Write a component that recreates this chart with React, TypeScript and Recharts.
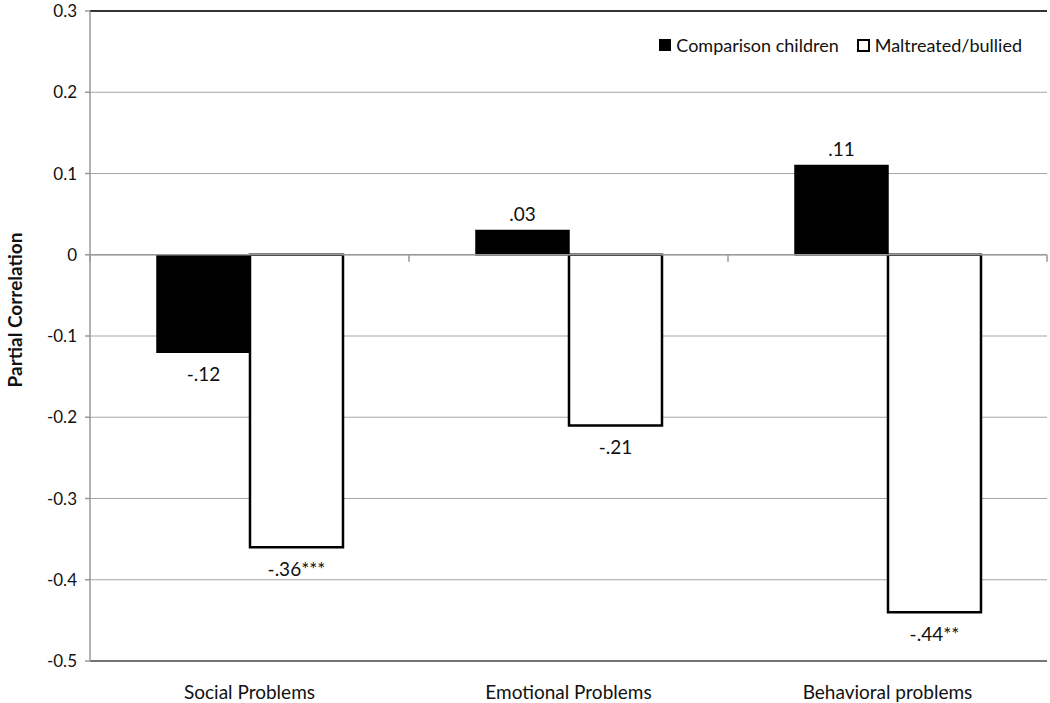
import { BarChart, Bar, XAxis, YAxis, CartesianGrid, Legend, LabelList, ReferenceLine } from "recharts";

const categories = ["Social Problems", "Emotional Problems", "Behavioral problems"];
const comparison = [-0.12, 0.03, 0.11];
const maltreated = [-0.36, -0.21, -0.44];
const comparisonLabels = ["-.12", ".03", ".11"];
const maltreatedLabels = ["-.36***", "-.21", "-.44**"];
const yTicks = [-0.5, -0.4, -0.3, -0.2, -0.1, 0, 0.1, 0.2, 0.3];

const data = categories.map((name, i) => ({
  name,
  comparison: comparison[i],
  maltreated: maltreated[i],
  cLabel: comparisonLabels[i],
  mLabel: maltreatedLabels[i],
}));

const FONT = "Lato, 'Open Sans', sans-serif";

// value labels sit above positive bars and below negative ones
const valueLabel = (values: number[]) => (props: any) => {
  const box = props.viewBox ?? props;
  const { x, y, width, height } = box;
  const v = values[props.index];
  const top = Math.min(y, y + height);
  const bottom = Math.max(y, y + height);
  const ty = v >= 0 ? top - 17 : bottom + 21;
  return (
    <text x={x + width / 2} y={ty} textAnchor="middle" dominantBaseline="central" fontSize={19} fontFamily={FONT} fill="#111">
      {props.value}
    </text>
  );
};

// zero line with little ticks at the category boundaries
const ZeroLine = (props: any) => {
  const { x1, y1, x2 } = props;
  const step = (x2 - x1) / categories.length;
  const ticks = [];
  for (let i = 0; i <= categories.length; i++) {
    const tx = x1 + step * i;
    ticks.push(<line key={i} x1={tx} x2={tx} y1={y1} y2={y1 + 7} stroke="#999" strokeWidth={1.5} />);
  }
  return (
    <g>
      <line x1={x1} x2={x2} y1={y1} y2={y1} stroke="#999" strokeWidth={1.5} />
      {ticks}
    </g>
  );
};

const LegendBox = () => (
  <div style={{ display: "flex", alignItems: "center", fontFamily: FONT, fontSize: 18, color: "#111", whiteSpace: "nowrap" }}>
    <span style={{ width: 12, height: 12, background: "#000", display: "inline-block", marginRight: 5 }} />
    <span style={{ marginRight: 18 }}>Comparison children</span>
    <span style={{ width: 9, height: 9, border: "2px solid #000", background: "#fff", display: "inline-block", marginRight: 5 }} />
    <span>Maltreated/bullied</span>
  </div>
);

const App = () => {
  return (
    <div style={{ width: 1050, height: 703, background: "#fff" }}>
      <style>{`body { margin: 0; overflow: hidden; }`}</style>
      <BarChart
        width={1050}
        height={703}
        data={data}
        margin={{ top: 11, right: 3, bottom: 0, left: 0 }}
        barCategoryGap="21%"
        barGap={0}
      >
        <CartesianGrid vertical={false} stroke="#a6a6a6" strokeWidth={1.2} />
        <XAxis
          dataKey="name"
          height={42}
          tickSize={0}
          tickMargin={25}
          axisLine={{ stroke: "#555", strokeWidth: 1.5 }}
          tick={{ fontSize: 19, fontFamily: FONT, fill: "#111" }}
        />
        <YAxis
          domain={[-0.5, 0.3]}
          ticks={yTicks}
          width={90}
          tickSize={5}
          tickMargin={8}
          interval={0}
          tickFormatter={(v: number) => (v === 0 ? "0" : v.toFixed(1))}
          axisLine={{ stroke: "#999", strokeWidth: 1.5 }}
          tickLine={{ stroke: "#999", strokeWidth: 1.5 }}
          tick={{ fontSize: 17, fontFamily: FONT, fill: "#111" }}
          label={(props: any) => {
            const vb = props.viewBox;
            const cx = 14;
            const cy = vb.y + vb.height / 2 - 26;
            return (
              <text x={cx} y={cy} transform={`rotate(-90 ${cx} ${cy})`} textAnchor="middle" dominantBaseline="central" fontSize={19} fontWeight="bold" fontFamily={FONT} fill="#111">
                Partial Correlation
              </text>
            );
          }}
        />
        <YAxis
          yAxisId="frame"
          orientation="right"
          width={0}
          domain={[-0.5, 0.3]}
          tick={false}
          tickLine={false}
          axisLine={{ stroke: "#ccc", strokeWidth: 1.5 }}
        />
        <ReferenceLine y={0.3} stroke="#333" strokeWidth={2} />
        <ReferenceLine y={0} shape={ZeroLine} />
        <Legend
          verticalAlign="middle"
          align="center"
          wrapperStyle={{ top: 34, right: 28, left: "auto", width: "auto", height: "auto" }}
          content={LegendBox}
        />
        <Bar dataKey="comparison" name="Comparison children" fill="#000" stroke="#000" strokeWidth={1.5} isAnimationActive={false}>
          <LabelList dataKey="cLabel" content={valueLabel(comparison)} />
        </Bar>
        <Bar dataKey="maltreated" name="Maltreated/bullied" fill="#fff" stroke="#000" strokeWidth={2.5} isAnimationActive={false}>
          <LabelList dataKey="mLabel" content={valueLabel(maltreated)} />
        </Bar>
      </BarChart>
    </div>
  );
};

export default App;
